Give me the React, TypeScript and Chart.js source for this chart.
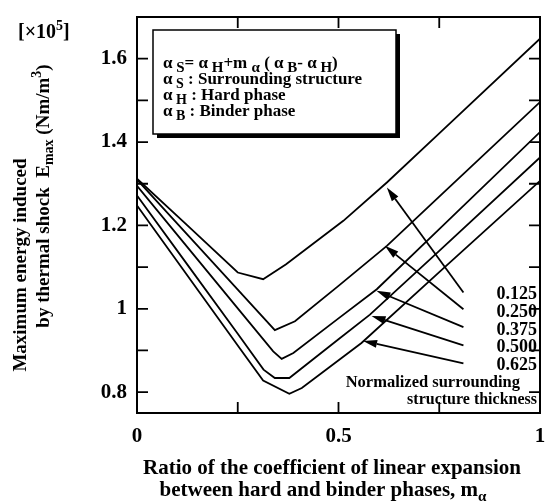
import React, { useEffect, useRef } from 'react';
import { Chart, registerables } from 'chart.js';

Chart.register(...registerables);

// ---- data ----
const thicknessLabels = ['0.125', '0.250', '0.375', '0.500', '0.625'];

const m0125 = [0, 0.125, 0.25, 0.313, 0.37, 0.512, 0.62, 0.75, 1];
const e0125 = [1.312, 1.2, 1.087, 1.071, 1.107, 1.211, 1.303, 1.421, 1.648];

const m0250 = [0, 0.125, 0.25, 0.342, 0.392, 0.5, 0.62, 0.75, 1];
const e0250 = [1.31, 1.178, 1.046, 0.949, 0.97, 1.055, 1.151, 1.269, 1.496];

const m0375 = [0, 0.125, 0.25, 0.338, 0.359, 0.388, 0.5, 0.595, 0.75, 1];
const e0375 = [1.295, 1.148, 1.001, 0.898, 0.88, 0.894, 0.977, 1.047, 1.191, 1.424];

const m0500 = [0, 0.125, 0.25, 0.314, 0.342, 0.378, 0.5, 0.578, 0.75, 1];
const e0500 = [1.272, 1.106, 0.94, 0.854, 0.834, 0.834, 0.927, 0.986, 1.139, 1.363];

const m0625 = [0, 0.125, 0.25, 0.313, 0.378, 0.409, 0.557, 0.75, 1];
const e0625 = [1.248, 1.08, 0.912, 0.828, 0.796, 0.81, 0.918, 1.088, 1.307];

const seriesM = [m0125, m0250, m0375, m0500, m0625];
const seriesE = [e0125, e0250, e0375, e0500, e0625];

// arrows from thickness labels to curves (data units)
const arrowHeadM = [0.62, 0.615, 0.594, 0.582, 0.561];
const arrowHeadE = [1.291, 1.151, 1.043, 0.983, 0.923];
const arrowTailM = [0.81, 0.81, 0.81, 0.81, 0.81];
const arrowTailE = [1.039, 0.999, 0.956, 0.912, 0.869];

const xTickValues = [0, 0.25, 0.5, 0.75, 1];
const xTickLabels = ['0', '', '0.5', '', '1'];
const yTickValues = [0.8, 0.9, 1.0, 1.1, 1.2, 1.3, 1.4, 1.5, 1.6];
const yTickLabels = ['0.8', '', '1', '', '1.2', '', '1.4', '', '1.6'];

const FAMILY = "'Liberation Serif', 'DejaVu Serif', serif";

type Part = [string, 'n' | 'b' | 'p'];

function fontFor(size: number) {
  return `bold ${size}px ${FAMILY}`;
}

function drawRich(
  ctx: CanvasRenderingContext2D,
  parts: Part[],
  x: number,
  y: number,
  size: number,
  align: 'left' | 'center' | 'right',
  subScale = 0.72
) {
  let w = 0;
  for (const [t, k] of parts) {
    ctx.font = fontFor(k === 'n' ? size : Math.round(size * subScale));
    w += ctx.measureText(t).width;
  }
  let cx = align === 'center' ? x - w / 2 : align === 'right' ? x - w : x;
  ctx.textAlign = 'left';
  ctx.textBaseline = 'alphabetic';
  for (const [t, k] of parts) {
    const s = k === 'n' ? size : Math.round(size * subScale);
    ctx.font = fontFor(s);
    const dy = k === 'b' ? size * 0.22 : k === 'p' ? -size * 0.42 : 0;
    ctx.fillText(t, cx, y + dy);
    cx += ctx.measureText(t).width;
  }
}

const decorPlugin = {
  id: 'decor',
  afterDraw(chart: any) {
    const ctx: CanvasRenderingContext2D = chart.ctx;
    const { left, right, top, bottom } = chart.chartArea;
    const xs = chart.scales.x;
    const ys = chart.scales.y;
    ctx.save();
    ctx.strokeStyle = '#000';
    ctx.fillStyle = '#000';

    // frame
    ctx.lineWidth = 2;
    ctx.strokeRect(left, top, right - left, bottom - top);

    // inward ticks on all four sides
    const tl = 11;
    ctx.lineWidth = 1.8;
    ctx.beginPath();
    for (const v of xTickValues) {
      const px = xs.getPixelForValue(v);
      ctx.moveTo(px, bottom);
      ctx.lineTo(px, bottom - tl);
      ctx.moveTo(px, top);
      ctx.lineTo(px, top + tl);
    }
    for (const v of yTickValues) {
      const py = ys.getPixelForValue(v);
      ctx.moveTo(left, py);
      ctx.lineTo(left + tl, py);
      ctx.moveTo(right, py);
      ctx.lineTo(right - tl, py);
    }
    ctx.stroke();

    // legend box with shadow
    const bx = 153, by = 30, bw = 243, bh = 104;
    ctx.fillStyle = '#000';
    ctx.fillRect(bx + 4, by + 4, bw, bh);
    ctx.fillStyle = '#fff';
    ctx.fillRect(bx, by, bw, bh);
    ctx.lineWidth = 1.5;
    ctx.strokeRect(bx, by, bw, bh);
    ctx.fillStyle = '#000';
    const lx = 163;
    const ls = 17;
    const sub = 0.82;
    drawRich(ctx, [
      ['α', 'n'], [' S', 'b'], ['= ', 'n'], ['α', 'n'], [' H', 'b'], ['+m ', 'n'], ['α', 'b'],
      [' ( ', 'n'], ['α', 'n'], [' B', 'b'], ['- ', 'n'], ['α', 'n'], [' H', 'b'], [')', 'n'],
    ], lx, 68, ls, 'left', 0.9);
    drawRich(ctx, [['α', 'n'], [' S', 'b'], [' : Surrounding structure', 'n']], lx, 84, ls, 'left', sub);
    drawRich(ctx, [['α', 'n'], [' H', 'b'], [' : Hard phase', 'n']], lx, 100, ls, 'left', sub);
    drawRich(ctx, [['α', 'n'], [' B', 'b'], [' : Binder phase', 'n']], lx, 116, ls, 'left', sub);

    // arrows
    ctx.lineWidth = 1.8;
    for (let i = 0; i < arrowHeadM.length; i++) {
      const hx = xs.getPixelForValue(arrowHeadM[i]);
      const hy = ys.getPixelForValue(arrowHeadE[i]);
      const tx = xs.getPixelForValue(arrowTailM[i]);
      const ty = ys.getPixelForValue(arrowTailE[i]);
      const ang = Math.atan2(hy - ty, hx - tx);
      const L = 14, W = 4;
      const bxp = hx - L * Math.cos(ang);
      const byp = hy - L * Math.sin(ang);
      ctx.beginPath();
      ctx.moveTo(tx, ty);
      ctx.lineTo(bxp, byp);
      ctx.stroke();
      ctx.beginPath();
      ctx.moveTo(hx, hy);
      ctx.lineTo(bxp + W * Math.sin(ang), byp - W * Math.cos(ang));
      ctx.lineTo(bxp - W * Math.sin(ang), byp + W * Math.cos(ang));
      ctx.closePath();
      ctx.fill();
    }

    // thickness labels
    const labelBase = [299, 317, 335, 352, 370];
    for (let i = 0; i < thicknessLabels.length; i++) {
      drawRich(ctx, [[thicknessLabels[i], 'n']], 537, labelBase[i], 18, 'right');
    }
    drawRich(ctx, [['Normalized surrounding', 'n']], 520, 387, 16.5, 'right');
    drawRich(ctx, [['structure thickness', 'n']], 537, 404, 16, 'right');

    // unit
    drawRich(ctx, [['[×10', 'n'], ['5', 'p'], [']', 'n']], 18, 38, 20, 'left');

    // x title
    drawRich(ctx, [['Ratio of the coefficient of linear expansion', 'n']], 332, 474, 21, 'center');
    drawRich(ctx, [['between hard and binder phases, m', 'n'], ['α', 'b']], 323, 496, 21, 'center');

    // y title
    ctx.save();
    ctx.translate(20, 265);
    ctx.rotate(-Math.PI / 2);
    drawRich(ctx, [['Maximum energy induced', 'n']], 0, 6, 19, 'center');
    ctx.restore();
    ctx.save();
    ctx.translate(43, 196);
    ctx.rotate(-Math.PI / 2);
    drawRich(ctx, [
      ['by thermal shock  E', 'n'], ['max', 'b'], [' (Nm/m', 'n'], ['3', 'p'], [')', 'n'],
    ], 0, 6, 19, 'center');
    ctx.restore();

    ctx.restore();
  },
};

export default function App() {
  const ref = useRef<HTMLCanvasElement>(null);

  useEffect(() => {
    if (!ref.current) return;
    const datasets = seriesM.map((ms, i) => ({
      label: thicknessLabels[i],
      data: ms.map((m, j) => ({ x: m, y: seriesE[i][j] })),
      borderColor: '#000',
      borderWidth: 1.8,
      pointRadius: 0,
      tension: 0,
      fill: false,
    }));
    const tickFont = { family: FAMILY, size: 21, weight: 'bold' as const };
    const chart = new Chart(ref.current, {
      type: 'line',
      data: { datasets },
      options: {
        animation: false,
        responsive: false,
        devicePixelRatio: 1,
        layout: { padding: { top: 17, right: 5, left: 0, bottom: 0 } },
        plugins: { legend: { display: false }, tooltip: { enabled: false }, title: { display: false } },
        scales: {
          x: {
            type: 'linear',
            min: 0,
            max: 1,
            afterBuildTicks: (s: any) => {
              s.ticks = xTickValues.map((v) => ({ value: v }));
            },
            afterFit: (s: any) => {
              s.height = 91;
              s.paddingLeft = 0;
              s.paddingRight = 0;
            },
            ticks: {
              callback: (_v: any, i: number) => xTickLabels[i],
              font: tickFont,
              color: '#000',
              padding: 11,
              maxRotation: 0,
              autoSkip: false,
            },
            grid: { display: false, drawTicks: false },
            border: { display: false },
          },
          y: {
            type: 'linear',
            min: 0.75,
            max: 1.7,
            afterBuildTicks: (s: any) => {
              s.ticks = yTickValues.map((v) => ({ value: v }));
            },
            afterFit: (s: any) => {
              s.width = 137;
              s.paddingTop = 0;
              s.paddingBottom = 0;
            },
            ticks: {
              callback: (_v: any, i: number) => yTickLabels[i],
              font: tickFont,
              color: '#000',
              padding: 10,
              autoSkip: false,
            },
            grid: { display: false, drawTicks: false },
            border: { display: false },
          },
        },
      },
      plugins: [decorPlugin],
    });
    return () => chart.destroy();
  }, []);

  return (
    <div style={{ position: 'fixed', left: 0, top: 0, width: 545, height: 504, background: '#fff' }}>
      <canvas ref={ref} width={545} height={504} style={{ display: 'block', width: 545, height: 504 }} />
    </div>
  );
}
